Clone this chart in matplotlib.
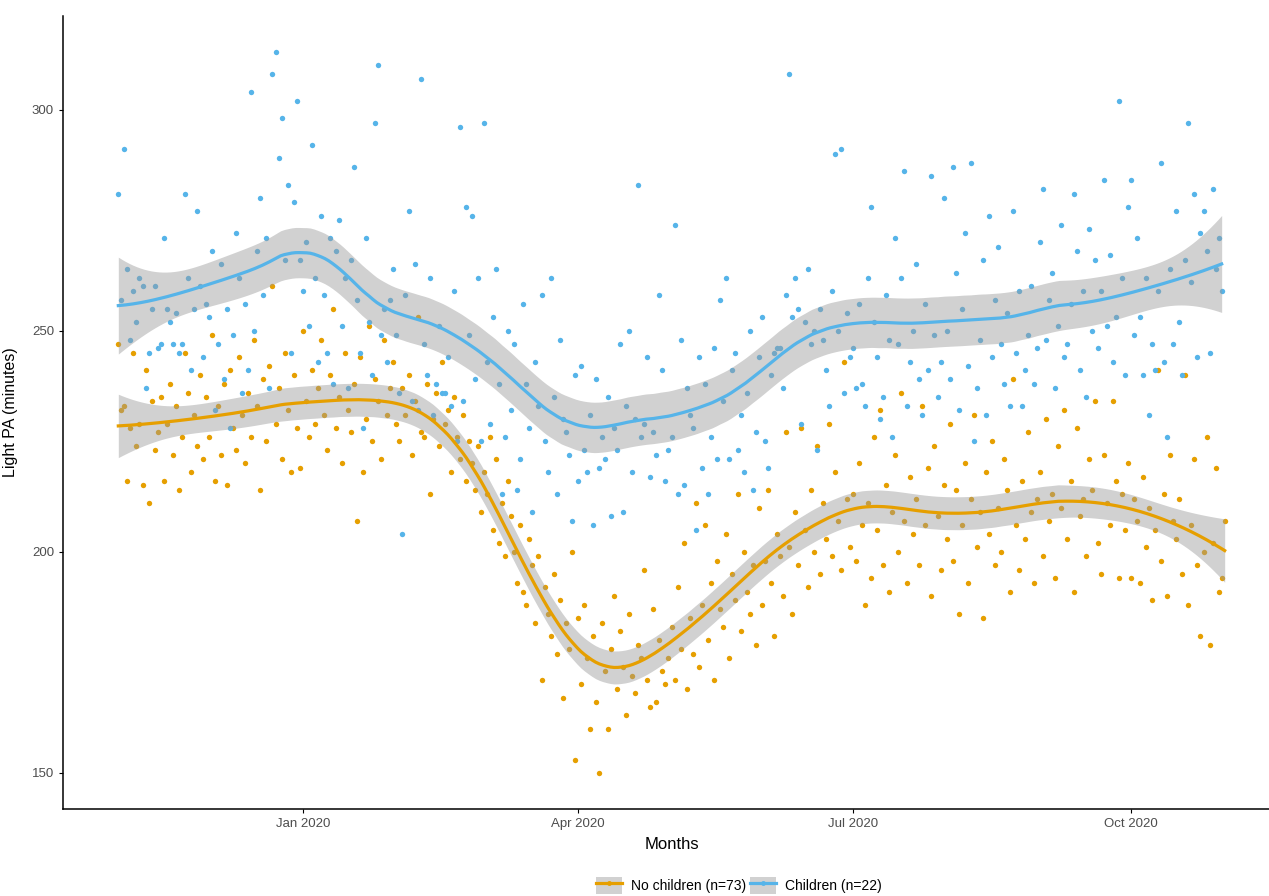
import matplotlib
matplotlib.use("Agg")
import matplotlib.pyplot as plt
import matplotlib.dates as mdates
from matplotlib.lines import Line2D
from matplotlib.patches import Patch
import numpy as np
import pandas as pd

# daily light PA (minutes), from 2019-11-01
start_date = "2019-11-01"

no_children = [
    # Nov
    247, 232, 233, 216, 228, 245, 224, 229, 215, 241, 211, 234, 223, 227, 235, 216, 229, 238, 222, 233,
    214, 226, 245, 236, 218, 231, 224, 240, 221, 235,
    # Dec
    226, 249, 216, 233, 222, 238, 215, 241, 228, 223, 244, 231, 220, 236, 226, 248, 233, 214, 239, 225,
    242, 260, 229, 237, 221, 245, 232, 218, 240, 228, 219,
    # Jan
    250, 234, 226, 241, 229, 237, 248, 231, 223, 240, 255, 228, 235, 220, 245, 232, 227, 238, 207, 244,
    218, 230, 251, 225, 239, 234, 221, 248, 231, 237, 243,
    # Feb
    229, 225, 237, 231, 240, 222, 234, 253, 227, 226, 238, 213, 230, 236, 224, 243, 229, 232, 218, 235,
    226, 221, 231, 216, 225, 220, 214, 224, 209,
    # Mar
    218, 213, 226, 205, 221, 202, 211, 199, 216, 208, 200, 193, 206, 191, 188, 203, 197, 184, 199, 171,
    192, 186, 181, 195, 177, 189, 167, 184, 178, 200, 153,
    # Apr
    185, 170, 188, 176, 160, 181, 166, 150, 184, 173, 160, 178, 190, 169, 182, 174, 163, 186, 172, 168,
    179, 176, 196, 171, 165, 187, 166, 180, 173, 170,
    # May
    176, 183, 171, 192, 178, 202, 169, 185, 177, 211, 174, 188, 206, 180, 193, 171, 198, 187, 183, 204,
    176, 195, 189, 213, 182, 200, 191, 186, 197, 179, 210,
    # Jun
    188, 198, 214, 193, 181, 204, 199, 190, 227, 201, 186, 209, 197, 228, 205, 192, 214, 200, 224, 195,
    211, 203, 229, 199, 218, 207, 196, 243, 212, 201,
    # Jul
    213, 198, 220, 206, 188, 211, 194, 226, 205, 232, 197, 215, 191, 209, 222, 200, 236, 207, 193, 217,
    204, 212, 197, 233, 206, 219, 190, 224, 208, 196, 215,
    # Aug
    203, 229, 198, 214, 186, 206, 220, 193, 212, 231, 201, 209, 185, 218, 204, 225, 197, 210, 200, 221,
    214, 191, 239, 206, 196, 216, 203, 227, 209, 193, 212,
    # Sep
    218, 199, 230, 207, 213, 194, 224, 210, 232, 203, 216, 191, 228, 208, 212, 199, 221, 214, 234, 202,
    195, 222, 211, 206, 234, 216, 194, 213, 205, 220,
    # Oct
    194, 212, 207, 193, 217, 201, 210, 189, 205, 241, 198, 213, 190, 222, 207, 203, 212, 195, 240, 188,
    206, 221, 197, 181, 200, 226, 179, 202, 219, 191, 194, 207,
]

children = [
    # Nov
    281, 257, 291, 264, 248, 259, 252, 262, 260, 237, 245, 255, 260, 246, 247, 271, 255, 252, 247, 254,
    245, 247, 281, 262, 241, 255, 277, 260, 244, 256,
    # Dec
    253, 268, 232, 247, 265, 239, 255, 228, 249, 272, 262, 236, 256, 241, 304, 250, 268, 280, 258, 271,
    237, 308, 313, 289, 298, 266, 283, 245, 279, 302, 266,
    # Jan
    259, 270, 251, 292, 262, 243, 276, 258, 245, 271, 238, 268, 275, 251, 262, 237, 266, 287, 257, 245,
    228, 271, 252, 240, 297, 310, 249, 255, 243, 257, 264,
    # Feb
    249, 236, 204, 258, 277, 234, 265, 232, 307, 247, 240, 262, 231, 238, 251, 236, 236, 244, 233, 259,
    225, 296, 234, 278, 249, 276, 239, 262, 225,
    # Mar
    297, 243, 229, 253, 264, 238, 213, 226, 250, 232, 247, 214, 221, 256, 238, 228, 209, 243, 233, 258,
    225, 218, 262, 235, 213, 248, 230, 227, 222, 207, 240,
    # Apr
    216, 242, 223, 218, 231, 206, 239, 219, 226, 221, 235, 208, 228, 223, 247, 209, 233, 250, 218, 230,
    283, 226, 229, 244, 217, 227, 222, 258, 241, 216,
    # May
    223, 226, 274, 213, 248, 215, 237, 231, 228, 205, 244, 219, 238, 213, 226, 246, 221, 257, 234, 262,
    221, 241, 245, 223, 231, 218, 236, 250, 214, 227, 244,
    # Jun
    253, 225, 219, 240, 245, 246, 246, 237, 258, 308, 253, 262, 255, 229, 252, 264, 247, 250, 223, 255,
    248, 241, 233, 259, 290, 250, 291, 236, 254, 244,
    # Jul
    246, 237, 256, 238, 233, 262, 278, 252, 244, 230, 235, 258, 248, 226, 271, 247, 262, 286, 233, 243,
    250, 265, 239, 231, 256, 241, 285, 249, 235, 243, 280,
    # Aug
    250, 239, 287, 263, 232, 255, 272, 242, 288, 225, 237, 248, 266, 231, 276, 244, 257, 269, 247, 238,
    254, 233, 277, 245, 259, 233, 241, 249, 260, 238, 246,
    # Sep
    270, 282, 248, 257, 263, 237, 251, 274, 244, 247, 256, 281, 268, 241, 259, 235, 273, 250, 266, 246,
    259, 284, 251, 267, 243, 253, 302, 262, 240, 278,
    # Oct
    284, 249, 271, 253, 240, 262, 231, 247, 241, 259, 288, 243, 226, 264, 247, 277, 252, 240, 266, 297,
    261, 281, 244, 272, 277, 268, 245, 282, 264, 271, 259,
]

group_labels = ["No children (n=73)", "Children (n=22)"]
group_colors = ["#E69F00", "#56B4E9"]


def loess_weights(x, x0, span):
    """Row of the local-quadratic loess smoother matrix at x0."""
    n = len(x)
    q = int(np.ceil(span * n))
    d = np.abs(x - x0)
    h = np.sort(d)[q - 1]
    w = np.clip(1 - (d / h) ** 3, 0, None) ** 3
    X = np.column_stack([np.ones(n), x - x0, (x - x0) ** 2])
    XtW = X.T * w
    return np.linalg.solve(XtW @ X, XtW)[0]


def loess_smooth(t, y, span=0.3, n_grid=300):
    t = np.asarray(t, float)
    y = np.asarray(y, float)
    L = np.array([loess_weights(t, xi, span) for xi in t])
    resid = y - L @ y
    dof = len(y) - np.trace(L)
    sigma = np.sqrt(resid @ resid / dof)

    tg = np.linspace(t.min(), t.max(), n_grid)
    Lg = np.array([loess_weights(t, xi, span) for xi in tg])
    fit = Lg @ y
    se = sigma * np.sqrt(np.sum(Lg ** 2, axis=1))
    return tg, fit, fit - 1.96 * se, fit + 1.96 * se


plt.rcParams["font.family"] = ["Liberation Sans", "DejaVu Sans"]

fig = plt.figure(figsize=(12.69, 8.96), dpi=100)
ax = fig.add_axes([63 / 1269, 87 / 896, 1217 / 1269, 793 / 896])

t0 = pd.Timestamp(start_date)
series = [no_children, children]

for vals, col in zip(series, group_colors):
    dates = pd.date_range(t0, periods=len(vals), freq="D")
    ax.scatter(dates, vals, s=15, color=col, linewidths=0, zorder=1)

for vals, col in zip(series, group_colors):
    days = np.arange(len(vals))
    tg, fit, lo, hi = loess_smooth(days, vals)
    gdates = t0 + pd.to_timedelta(tg, unit="D")
    ax.fill_between(gdates, lo, hi, color="#999999", alpha=0.45, linewidth=0, zorder=2)
    ax.plot(gdates, fit, color=col, lw=2.3, zorder=3)

ax.set_yticks([150, 200, 250, 300])
ax.xaxis.set_major_locator(mdates.MonthLocator(bymonth=[1, 4, 7, 10]))
ax.xaxis.set_major_formatter(mdates.DateFormatter("%b %Y"))

for side in ["top", "right"]:
    ax.spines[side].set_visible(False)
for side in ["left", "bottom"]:
    ax.spines[side].set_linewidth(1.1)
ax.tick_params(labelsize=9.5, labelcolor="#4d4d4d", length=3, width=0.8)

ax.set_xlabel("Months", fontsize=12, labelpad=5)
ax.set_ylabel("Light PA (minutes)", fontsize=11.5, labelpad=10)

handles = [
    (Patch(facecolor="#999999", alpha=0.45, linewidth=0),
     Line2D([], [], color=c, lw=2.3, marker="o", markersize=3.5, markeredgewidth=0))
    for c in group_colors
]
fig.legend(handles, group_labels, loc="center", bbox_to_anchor=(0.582, 0.012), ncol=2,
           frameon=False, fontsize=10, handlelength=1.9, handleheight=1.5, columnspacing=0.3,
           handletextpad=0.6)

fig.savefig("out.png", dpi=100)
